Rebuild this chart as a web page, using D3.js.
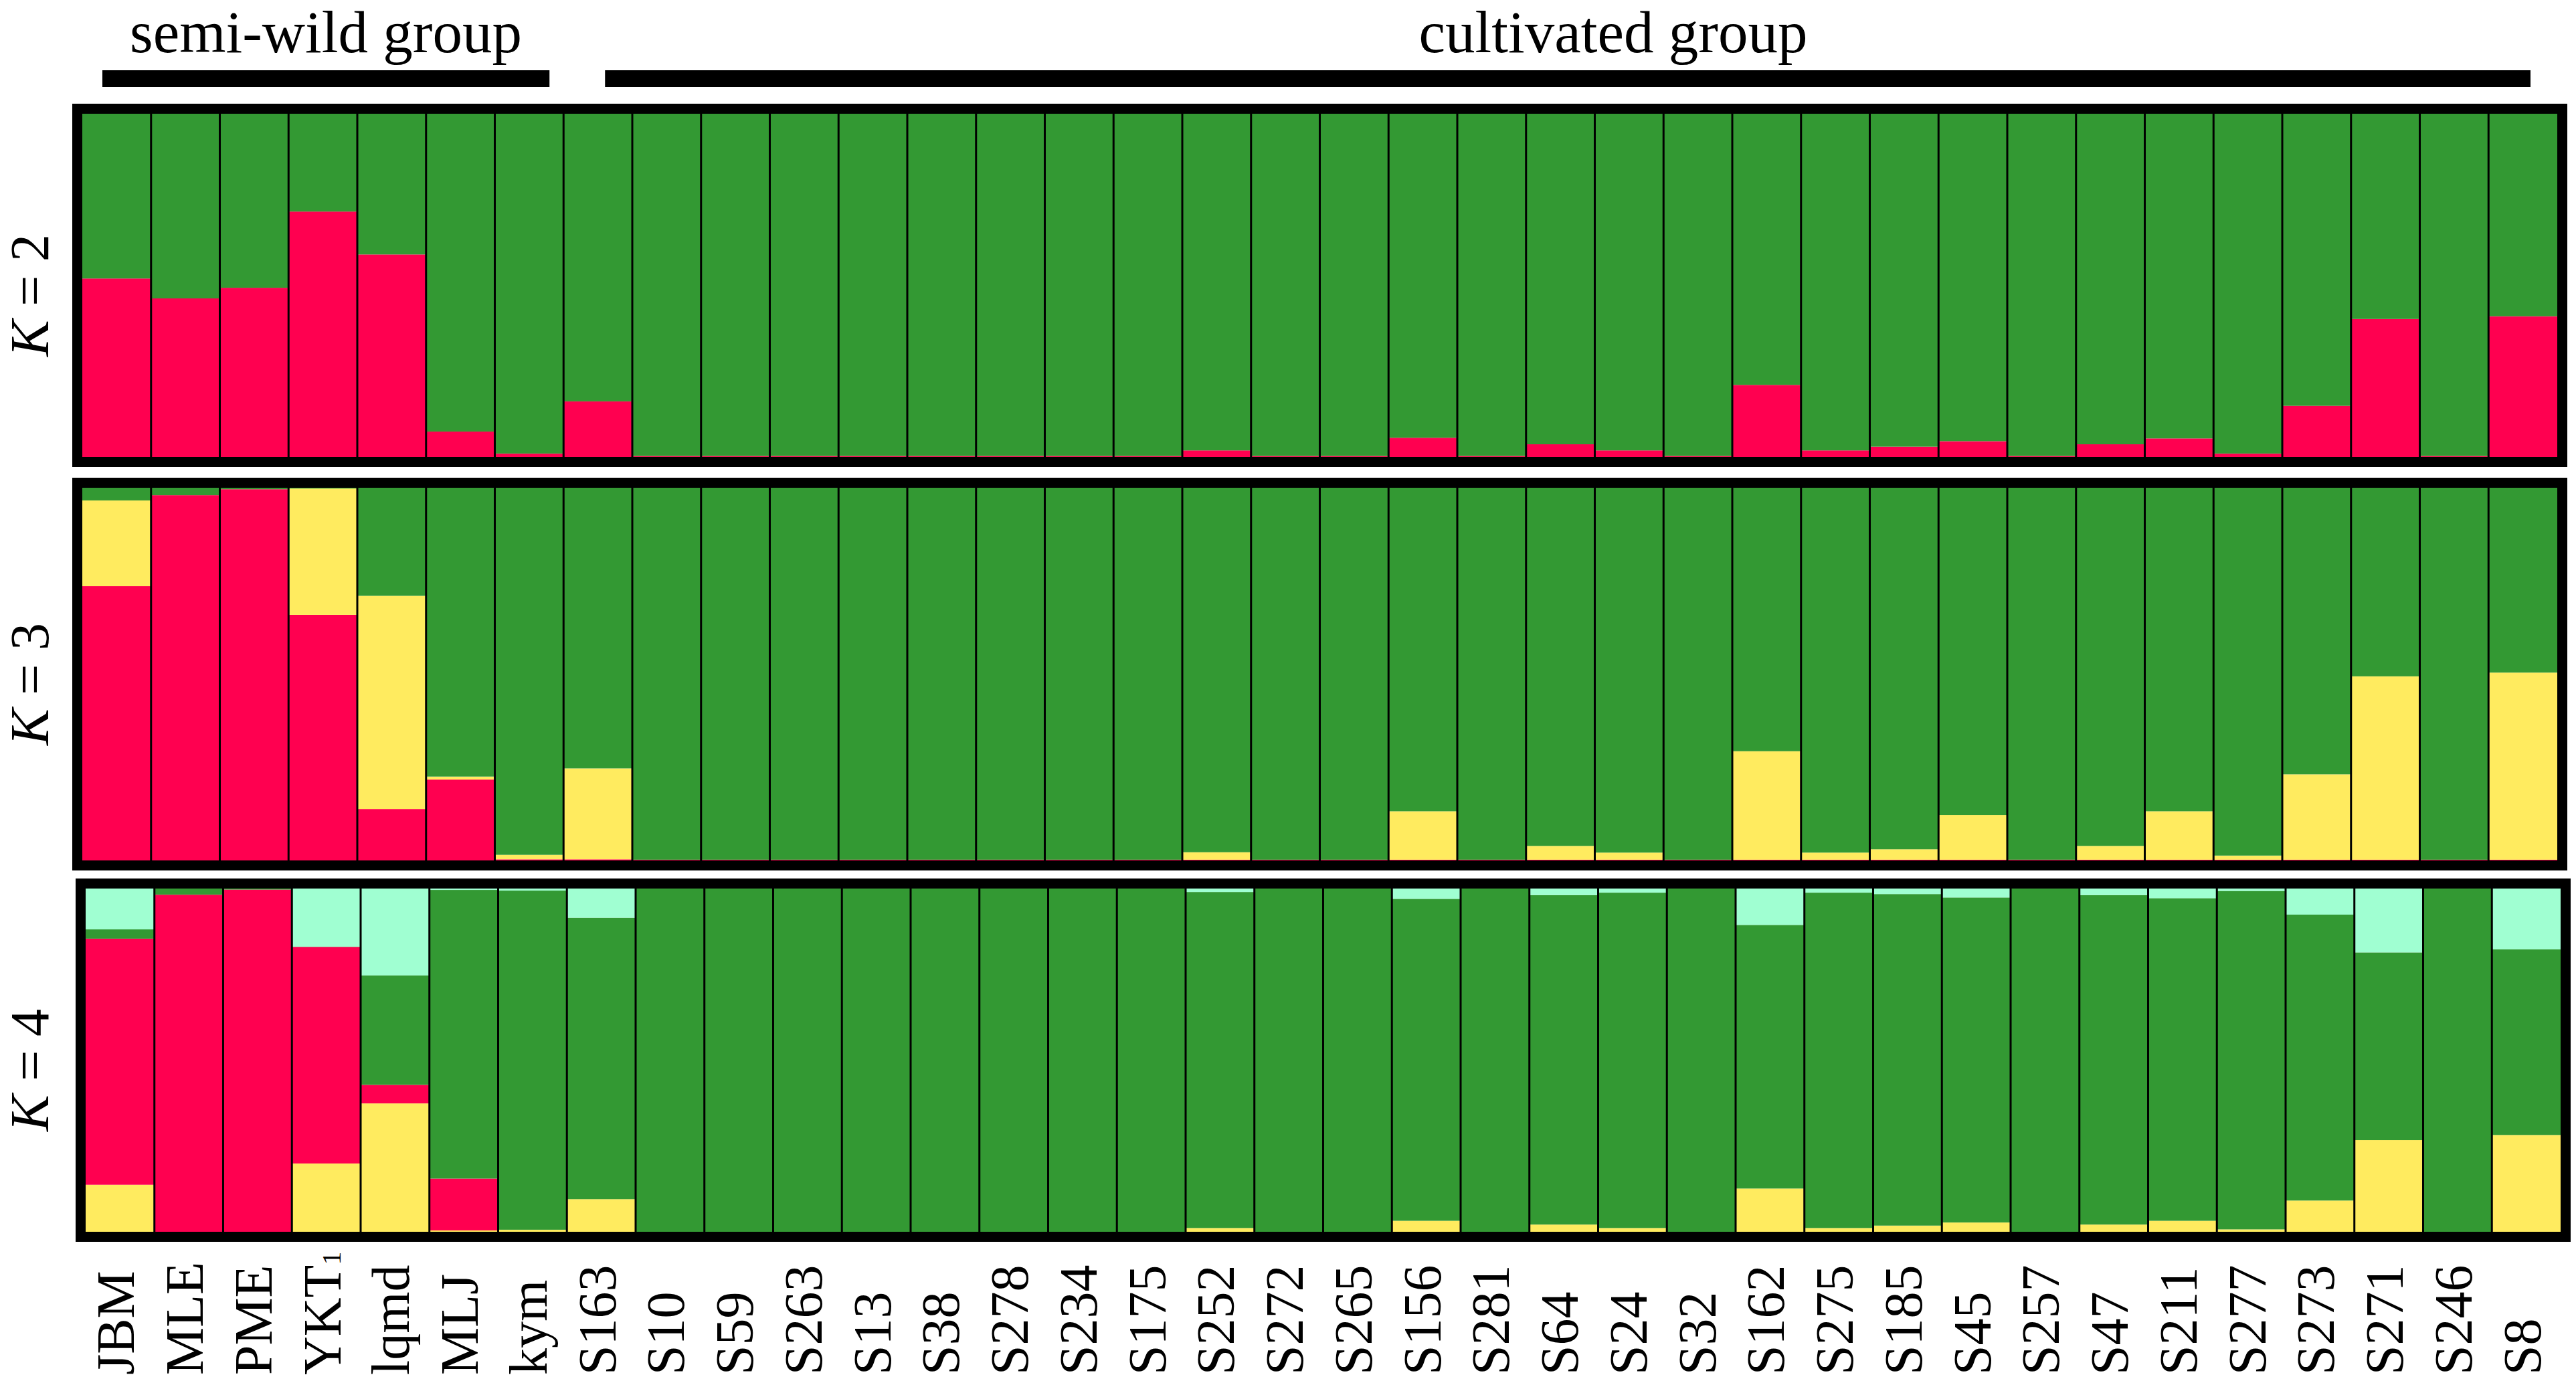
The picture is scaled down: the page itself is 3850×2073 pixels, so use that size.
<!DOCTYPE html>
<html>
<head>
<meta charset="utf-8">
<script src="https://cdn.jsdelivr.net/npm/d3@7"></script>
<style>
  html, body { margin: 0; padding: 0; background: #fff; }
  svg { display: block; }
  text { font-family: "Liberation Serif", "Times New Roman", serif; fill: #000; }
</style>
</head>
<body>
<svg id="chart" width="3850" height="2073"></svg>
<script>
// samples, left to right
var samples = ["JBM", "MLE", "PME", "YKT1", "lqmd", "MLJ", "kym", "S163",
  "S10", "S59", "S263", "S13", "S38", "S278", "S234", "S175", "S252", "S272",
  "S265", "S156", "S281", "S64", "S24", "S32", "S162", "S275", "S185", "S45",
  "S257", "S47", "S211", "S277", "S273", "S271", "S246", "S8"];

var groups = ["semi-wild group", "cultivated group"];

// K = 2 membership (bottom -> top: red, green)
var k2Red = [0.52, 0.462, 0.493, 0.715, 0.59, 0.074, 0.01, 0.162,
  0.003, 0.003, 0.003, 0.003, 0.003, 0.003, 0.003, 0.003, 0.019, 0.003,
  0.003, 0.056, 0.003, 0.037, 0.019, 0.003, 0.21, 0.019, 0.03, 0.046,
  0.003, 0.037, 0.054, 0.01, 0.149, 0.402, 0.003, 0.41];
var k2Green = [0.48, 0.538, 0.507, 0.285, 0.41, 0.926, 0.99, 0.838,
  0.997, 0.997, 0.997, 0.997, 0.997, 0.997, 0.997, 0.997, 0.981, 0.997,
  0.997, 0.944, 0.997, 0.963, 0.981, 0.997, 0.79, 0.981, 0.97, 0.954,
  0.997, 0.963, 0.946, 0.99, 0.851, 0.598, 0.997, 0.59];

// K = 3 membership (bottom -> top: red, yellow, green)
var k3Red = [0.736, 0.98, 0.996, 0.659, 0.138, 0.217, 0.003, 0.003,
  0.002, 0.002, 0.002, 0.002, 0.002, 0.002, 0.002, 0.002, 0.002, 0.002,
  0.002, 0.002, 0.002, 0.002, 0.002, 0.002, 0.002, 0.002, 0.002, 0.002,
  0.002, 0.002, 0.002, 0.002, 0.002, 0.002, 0.002, 0.002];
var k3Yellow = [0.23, 0, 0, 0.339, 0.572, 0.008, 0.012, 0.244,
  0, 0, 0, 0, 0, 0, 0, 0, 0.02, 0,
  0, 0.13, 0, 0.037, 0.019, 0, 0.291, 0.019, 0.028, 0.12,
  0, 0.037, 0.13, 0.011, 0.229, 0.492, 0, 0.502];
var k3Green = [0.034, 0.02, 0.004, 0.002, 0.29, 0.775, 0.985, 0.753,
  0.998, 0.998, 0.998, 0.998, 0.998, 0.998, 0.998, 0.998, 0.978, 0.998,
  0.998, 0.868, 0.998, 0.961, 0.979, 0.998, 0.707, 0.979, 0.97, 0.878,
  0.998, 0.961, 0.868, 0.987, 0.769, 0.506, 0.998, 0.496];

// K = 4 membership (bottom -> top: yellow, red, green, cyan)
var k4Yellow = [0.137, 0, 0, 0.199, 0.374, 0.004, 0.006, 0.095,
  0, 0, 0, 0, 0, 0, 0, 0, 0.011, 0,
  0, 0.032, 0, 0.021, 0.011, 0, 0.126, 0.011, 0.018, 0.027,
  0, 0.021, 0.032, 0.007, 0.091, 0.267, 0, 0.282];
var k4Red = [0.717, 0.982, 0.997, 0.631, 0.054, 0.151, 0, 0,
  0, 0, 0, 0, 0, 0, 0, 0, 0, 0,
  0, 0, 0, 0, 0, 0, 0, 0, 0, 0,
  0, 0, 0, 0, 0, 0, 0, 0];
var k4Green = [0.027, 0.018, 0.003, 0.001, 0.319, 0.841, 0.988, 0.82,
  1, 1, 1, 1, 1, 1, 1, 1, 0.979, 1,
  1, 0.938, 1, 0.96, 0.977, 1, 0.768, 0.977, 0.966, 0.947,
  1, 0.96, 0.94, 0.986, 0.833, 0.547, 1, 0.541];
var k4Cyan = [0.119, 0, 0, 0.169, 0.253, 0.004, 0.006, 0.085,
  0, 0, 0, 0, 0, 0, 0, 0, 0.01, 0,
  0, 0.03, 0, 0.019, 0.012, 0, 0.106, 0.012, 0.016, 0.026,
  0, 0.019, 0.028, 0.007, 0.076, 0.186, 0, 0.177];

var colors = {
  red: "#ff0050",
  green: "#339933",
  yellow: "#ffeb5f",
  cyan: "#a0ffd2"
};

var panels = [
  {k: 2, left: 123, right: 3822, top: 170, bottom: 683,
   series: [["red", k2Red], ["green", k2Green]]},
  {k: 3, left: 123, right: 3822, top: 729, bottom: 1286,
   series: [["red", k3Red], ["yellow", k3Yellow], ["green", k3Green]]},
  {k: 4, left: 128, right: 3827, top: 1328, bottom: 1841,
   series: [["yellow", k4Yellow], ["red", k4Red], ["green", k4Green], ["cyan", k4Cyan]]}
];

var serif = "'Liberation Serif', 'Times New Roman', serif";
var svg = d3.select("#chart");

panels.forEach(function(p) {
  var x = d3.scaleBand().domain(samples).range([p.left, p.right]).padding(0);
  var y = d3.scaleLinear().domain([0, 1]).range([p.bottom, p.top]);

  var rows = samples.map(function(s, i) {
    var r = {sample: s};
    p.series.forEach(function(se) { r[se[0]] = se[1][i]; });
    return r;
  });
  var layers = d3.stack().keys(p.series.map(function(se) { return se[0]; }))(rows);

  var g = svg.append("g").attr("class", "panel k" + p.k);

  g.selectAll("g.layer")
    .data(layers)
    .enter()
    .append("g")
    .attr("class", "layer")
    .attr("fill", function(d) { return colors[d.key]; })
    .selectAll("rect")
    .data(function(d) { return d; })
    .enter()
    .append("rect")
    .attr("x", function(d) { return x(d.data.sample); })
    .attr("width", x.bandwidth() + 0.5)
    .attr("y", function(d) { return y(d[1]); })
    .attr("height", function(d) { return Math.max(0, y(d[0]) - y(d[1])); });

  // thin black lines between individuals
  g.selectAll("line.sep")
    .data(samples.slice(1))
    .enter()
    .append("line")
    .attr("class", "sep")
    .attr("x1", function(d) { return x(d); })
    .attr("x2", function(d) { return x(d); })
    .attr("y1", p.top)
    .attr("y2", p.bottom)
    .attr("stroke", "#000")
    .attr("stroke-width", 3);

  // heavy frame
  g.append("rect")
    .attr("x", p.left - 7.5)
    .attr("y", p.top - 7.5)
    .attr("width", p.right - p.left + 15)
    .attr("height", p.bottom - p.top + 15)
    .attr("fill", "none")
    .attr("stroke", "#000")
    .attr("stroke-width", 15);

  var t = g.append("text")
    .attr("transform", "translate(72," + ((p.top + p.bottom) / 2 + 15) + ") rotate(-90)")
    .attr("text-anchor", "middle")
    .attr("font-family", serif)
    .attr("font-size", 82);
  t.append("tspan").attr("font-style", "italic").text("K");
  t.append("tspan").text(" = " + p.k);
});

// sample names under the last panel
var xl = d3.scaleBand().domain(samples).range([panels[0].left, panels[0].right]).padding(0);

var labels = svg.append("g").attr("class", "labels")
  .selectAll("text")
  .data(samples)
  .enter()
  .append("text")
  .attr("transform", function(d) {
    return "translate(" + (xl(d) + xl.bandwidth() / 2 + 26) + ",2055) rotate(-90)";
  })
  .attr("font-family", serif)
  .attr("font-size", 80);

labels.each(function(d) {
  var el = d3.select(this);
  if (d === "YKT1") {
    el.append("tspan").text("YKT");
    el.append("tspan").attr("font-size", 40).text("1");
  } else {
    el.text(d);
  }
});

// group bars and titles
var head = svg.append("g").attr("class", "groups");
head.append("rect")
  .attr("x", xl("JBM") + 30)
  .attr("width", xl("kym") + xl.bandwidth() - 21 - (xl("JBM") + 30))
  .attr("y", 105)
  .attr("height", 25)
  .attr("fill", "#000");
head.append("rect")
  .attr("x", xl("S163") + 62)
  .attr("width", xl("S8") + xl.bandwidth() - 40 - (xl("S163") + 62))
  .attr("y", 105)
  .attr("height", 25)
  .attr("fill", "#000");

head.append("text")
  .attr("x", 487)
  .attr("y", 78)
  .attr("text-anchor", "middle")
  .attr("font-family", serif)
  .attr("font-size", 89)
  .text(groups[0]);
head.append("text")
  .attr("x", 2411)
  .attr("y", 78)
  .attr("text-anchor", "middle")
  .attr("font-family", serif)
  .attr("font-size", 89)
  .text(groups[1]);
</script>
</body>
</html>
